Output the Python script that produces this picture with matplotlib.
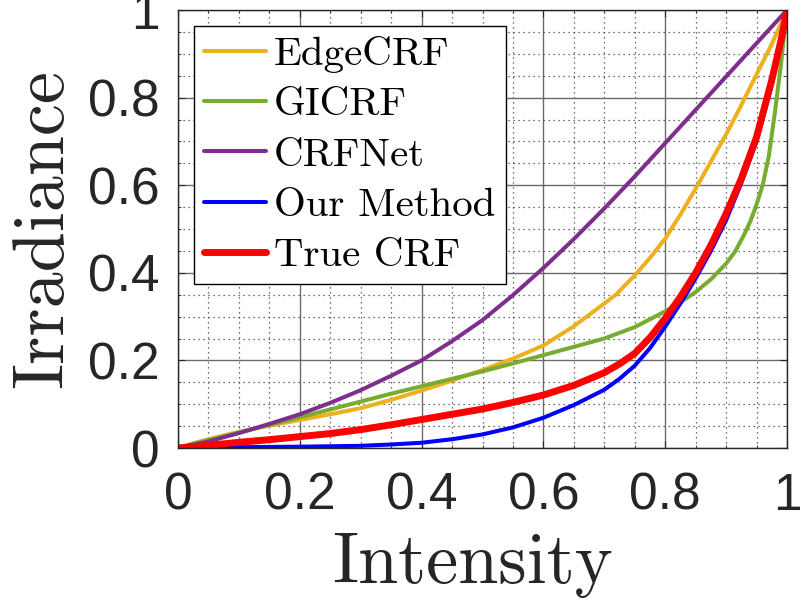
import matplotlib
matplotlib.use("Agg")
import matplotlib.pyplot as plt
from matplotlib.ticker import MultipleLocator

# ---- data ----
x_edge = [0, 0.025, 0.05, 0.1, 0.15, 0.2, 0.25, 0.3, 0.35, 0.4, 0.45, 0.5, 0.55, 0.6, 0.65, 0.7, 0.72, 0.735,
          0.75, 0.775, 0.8, 0.825, 0.85, 0.875, 0.9, 0.925, 0.95, 0.975, 1.0]
y_edge = [0, 0.011, 0.02, 0.037, 0.051, 0.064, 0.077, 0.091, 0.110, 0.131, 0.154, 0.178, 0.204, 0.234, 0.278, 0.330, 0.351, 0.373,
          0.394, 0.434, 0.478, 0.533, 0.592, 0.654, 0.716, 0.783, 0.853, 0.922, 1.0]

x_gi = [0, 0.025, 0.05, 0.1, 0.15, 0.2, 0.25, 0.3, 0.35, 0.4, 0.45, 0.5, 0.55, 0.6, 0.65, 0.7, 0.75, 0.8, 0.825,
        0.85, 0.875, 0.9, 0.915, 0.93, 0.94, 0.95, 0.96, 0.97, 0.98, 0.99, 0.995, 1.0]
y_gi = [0, 0.009, 0.018, 0.035, 0.053, 0.070, 0.088, 0.106, 0.124, 0.141, 0.158, 0.175, 0.193, 0.212, 0.231, 0.250, 0.276, 0.312, 0.333,
        0.356, 0.385, 0.421, 0.449, 0.488, 0.518, 0.556, 0.600, 0.665, 0.765, 0.875, 0.940, 1.0]

x_net = [0, 0.05, 0.1, 0.15, 0.2, 0.25, 0.3, 0.35, 0.4, 0.45, 0.5, 0.55, 0.6, 0.65, 0.7, 0.75, 0.8, 0.85, 0.9, 0.95, 1.0]
y_net = [0, 0.015, 0.034, 0.055, 0.077, 0.103, 0.132, 0.165, 0.200, 0.244, 0.292, 0.349, 0.411, 0.477, 0.547, 0.620, 0.696, 0.772, 0.848, 0.924, 1.0]

x_our = [0, 0.1, 0.2, 0.3, 0.35, 0.4, 0.45, 0.5, 0.55, 0.6, 0.65, 0.7, 0.725, 0.75, 0.775, 0.8, 0.825,
         0.85, 0.875, 0.9, 0.925, 0.95, 0.975, 0.99, 1.0]
y_our = [0, 0.002, 0.003, 0.005, 0.008, 0.012, 0.020, 0.031, 0.047, 0.069, 0.098, 0.133, 0.158, 0.188, 0.228, 0.277, 0.330,
         0.387, 0.450, 0.520, 0.605, 0.700, 0.830, 0.925, 1.0]

x_true = [0, 0.05, 0.1, 0.15, 0.2, 0.25, 0.3, 0.35, 0.4, 0.45, 0.5, 0.55, 0.6, 0.65, 0.7, 0.725, 0.75, 0.775, 0.8,
          0.825, 0.85, 0.875, 0.9, 0.925, 0.95, 0.975, 0.99, 1.0]
y_true = [0, 0.006, 0.013, 0.019, 0.026, 0.033, 0.042, 0.053, 0.065, 0.077, 0.089, 0.104, 0.121, 0.143, 0.172, 0.192, 0.216, 0.252, 0.296,
          0.345, 0.400, 0.463, 0.535, 0.615, 0.710, 0.840, 0.930, 1.0]

labels = ["EdgeCRF", "GICRF", "CRFNet", "Our Method", "True CRF"]
colors = ["#EDB120", "#77AC30", "#7E2F8E", "#0000FF", "#FF0000"]
widths = [2.9, 2.9, 2.9, 2.9, 5.0]

ticks = [0, 0.2, 0.4, 0.6, 0.8, 1]
tick_labels = ["0", "0.2", "0.4", "0.6", "0.8", "1"]

fig = plt.figure(figsize=(8.01, 6.12), dpi=100)
ax = fig.add_axes([178 / 801, 1 - 448 / 612, (787 - 178) / 801, (448 - 10) / 612])

series = [(x_edge, y_edge), (x_gi, y_gi), (x_net, y_net), (x_our, y_our), (x_true, y_true)]
for (xs, ys), lab, c, lw in zip(series, labels, colors, widths):
    ax.plot(xs, ys, color=c, lw=lw, label=lab, solid_joinstyle="round", solid_capstyle="round")

ax.set_xlim(0, 1)
ax.set_ylim(0, 1)
ax.set_xticks(ticks)
ax.set_xticklabels(tick_labels)
ax.set_yticks(ticks)
ax.set_yticklabels(tick_labels)
ax.xaxis.set_minor_locator(MultipleLocator(0.05))
ax.yaxis.set_minor_locator(MultipleLocator(0.05))

ax.grid(which="major", color="#6b6b6b", lw=1.0, ls="-")
ax.grid(which="minor", color="#404040", lw=0.9, ls=(0, (1, 3)))
ax.set_axisbelow(True)

ax.tick_params(which="both", direction="in", top=True, right=True, color="#262626")
ax.tick_params(which="major", length=5, width=0.8, labelsize=37, labelcolor="#262626")
ax.tick_params(axis="x", which="major", pad=17)
ax.tick_params(axis="y", which="major", pad=13)
ax.tick_params(which="minor", length=2.5, width=0.6)
for lab in ax.get_xticklabels() + ax.get_yticklabels():
    lab.set_fontfamily("Liberation Sans")
for s in ax.spines.values():
    s.set_color("#262626")
    s.set_linewidth(1.0)

ax.set_xlabel("Intensity", fontfamily="cmr10", fontsize=52, color="#262626", labelpad=9)
ax.xaxis.label.set_x(0.484)
ax.set_ylabel("Irradiance", fontfamily="cmr10", fontsize=52, color="#262626", labelpad=9)

leg = ax.legend(loc="upper left", bbox_to_anchor=(16 / 609, (448 - 26) / 438), borderaxespad=0,
                prop={"family": "cmr10", "size": 29.5}, frameon=True, fancybox=False,
                edgecolor="black", framealpha=1, handlelength=1.5, handletextpad=0.2,
                borderpad=0.25, labelspacing=0.33)
leg.get_frame().set_linewidth(1.0)

fig.savefig("out.png", dpi=100)
